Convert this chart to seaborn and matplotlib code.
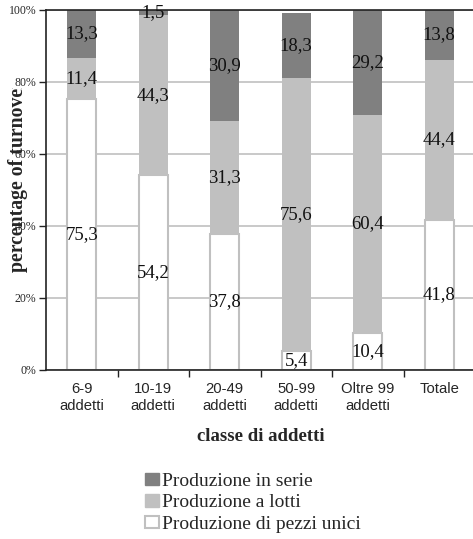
import matplotlib
matplotlib.use("Agg")
import matplotlib.pyplot as plt
import seaborn as sns
import pandas as pd
from matplotlib.patches import Patch
from matplotlib.transforms import Bbox

categories = ["6-9\naddetti", "10-19\naddetti", "20-49\naddetti",
              "50-99\naddetti", "Oltre 99\naddetti", "Totale"]
pezzi_unici = [75.3, 54.2, 37.8, 5.4, 10.4, 41.8]
lotti = [11.4, 44.3, 31.3, 75.6, 60.4, 44.4]
serie = [13.3, 1.5, 30.9, 18.3, 29.2, 13.8]
y_ticks = [0, 20, 40, 60, 80, 100]
y_tick_labels = ["0%", "20%", "40%", "60%", "80%", "100%"]

series_names = ["Produzione in serie", "Produzione a lotti", "Produzione di pezzi unici"]
c_dark, c_mid, c_white = "#808080", "#c0c0c0", "#ffffff"

sns.set_theme(style="white")
plt.rcParams["font.family"] = ["Liberation Serif", "DejaVu Serif"]

df = pd.DataFrame({"classe": categories, "unici": pezzi_unici,
                   "lotti": lotti, "serie": serie})
df["top_lotti"] = df["unici"] + df["lotti"]
df["top_serie"] = df["top_lotti"] + df["serie"]

W, H = 473, 539
fig = plt.figure(figsize=(W / 100, H / 100), dpi=100)
ax = fig.add_axes([46 / W, (H - 370) / H, (475 - 46) / W, 360 / H])

bw = 0.405
sns.barplot(data=df, x="classe", y="top_serie", color=c_dark, saturation=1,
            width=bw, linewidth=0, ax=ax)
sns.barplot(data=df, x="classe", y="top_lotti", color=c_mid, saturation=1,
            width=bw, linewidth=0, ax=ax)
sns.barplot(data=df, x="classe", y="unici", color=c_white, saturation=1,
            width=bw, edgecolor=c_mid, linewidth=1.5, ax=ax)

# segment value labels, centred in each segment
lab_kw = dict(ha="center", va="center", fontsize=13.5, color="#111111")
fmt = lambda v: f"{v:.1f}".replace(".", ",")
for i in range(len(categories)):
    u, l, s = pezzi_unici[i], lotti[i], serie[i]
    ax.text(i, u / 2, fmt(u), **lab_kw)
    ax.text(i, u + l / 2, fmt(l), **lab_kw)
    ax.text(i, u + l + s / 2, fmt(s), **lab_kw)

ax.set_xlim(-0.5, len(categories) - 0.5)
ax.set_ylim(0, 100)
ax.set_yticks(y_ticks)
ax.set_yticklabels(y_tick_labels, fontsize=8.5)
ax.yaxis.grid(True, color=c_mid, linewidth=1.2)
ax.set_axisbelow(True)

ax.set_xticks(range(len(categories)))
ax.set_xticklabels(categories, fontsize=10.7, family=["Liberation Sans", "DejaVu Sans"],
                   linespacing=1.3)
ax.set_xticks([i + 0.5 for i in range(len(categories) - 1)], minor=True)
ax.tick_params(axis="x", which="major", length=0, pad=8.5)
ax.tick_params(axis="x", which="minor", length=5, width=1, color="#222222",
               direction="out", bottom=True)
ax.tick_params(axis="y", length=5, width=1, color="#222222", direction="out",
               left=True, pad=2)

for side in ["left", "bottom", "top"]:
    ax.spines[side].set_color("#222222")
    ax.spines[side].set_linewidth(1.2)
ax.spines["right"].set_visible(False)

ax.set_xlabel("classe di addetti", fontsize=13.5, fontweight="bold", labelpad=11)
ax.set_ylabel("")
ylab = fig.text(18 / W, 1 - 176 / H, "percentage of turnover", rotation=90,
                ha="center", va="center", fontsize=14.2, fontweight="bold")
ylab.set_clip_on(True)
ylab.set_clip_box(Bbox.from_extents(0, 0, W, H - 88))

handles = [Patch(facecolor=c_dark, edgecolor=c_dark),
           Patch(facecolor=c_mid, edgecolor=c_mid),
           Patch(facecolor=c_white, edgecolor=c_mid, linewidth=1.5)]
fig.legend(handles, series_names, loc="upper left",
           bbox_to_anchor=(145 / W, 1 - 473 / H), frameon=False,
           fontsize=14, handlelength=0.72, handleheight=0.6,
           handletextpad=0.15, labelspacing=0.22, borderpad=0, borderaxespad=0)

fig.savefig("out.png", dpi=100)
